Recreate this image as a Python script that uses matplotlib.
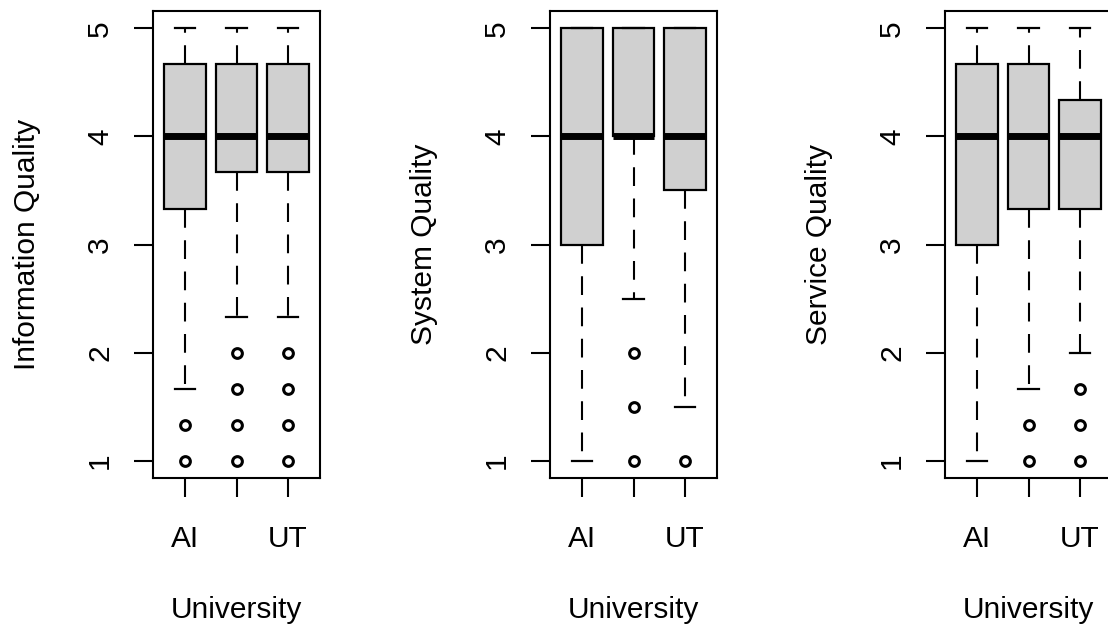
"""Three side-by-side boxplots of quality ratings by university (R-style)."""

import matplotlib

matplotlib.use("Agg")
import matplotlib.pyplot as plt

plt.rcParams["font.family"] = ["Liberation Sans", "DejaVu Sans"]

# ---- data ----
groups = ["AI", "", "UT"]  # middle label is dropped in the original (overlap)
panel_titles = ["Information Quality", "System Quality", "Service Quality"]
x_title = "University"

info_lo = [1.667, 2.333, 2.333]
info_q1 = [3.333, 3.667, 3.667]
info_med = [4.0, 4.0, 4.0]
info_q3 = [4.667, 4.667, 4.667]
info_hi = [5.0, 5.0, 5.0]
info_out = [[1.333, 1.0], [2.0, 1.667, 1.333, 1.0], [2.0, 1.667, 1.333, 1.0]]

sys_lo = [1.0, 2.5, 1.5]
sys_q1 = [3.0, 4.0, 3.5]
sys_med = [4.0, 4.0, 4.0]
sys_q3 = [5.0, 5.0, 5.0]
sys_hi = [5.0, 5.0, 5.0]
sys_out = [[], [2.0, 1.5, 1.0], [1.0]]

serv_lo = [1.0, 1.667, 2.0]
serv_q1 = [3.0, 3.333, 3.333]
serv_med = [4.0, 4.0, 4.0]
serv_q3 = [4.667, 4.667, 4.333]
serv_hi = [5.0, 5.0, 5.0]
serv_out = [[], [1.333, 1.0], [1.667, 1.333, 1.0]]

y_ticks = [1, 2, 3, 4, 5]

panels = [
    (info_lo, info_q1, info_med, info_q3, info_hi, info_out),
    (sys_lo, sys_q1, sys_med, sys_q3, sys_hi, sys_out),
    (serv_lo, serv_q1, serv_med, serv_q3, serv_hi, serv_out),
]

# ---- layout (pixels of the 1108x628 canvas) ----
W, H = 1108, 628
lefts_px = [153, 550, 945]
ax_w_px, top_px, bot_px = 167, 11, 478
FS = 21.5

fig = plt.figure(figsize=(W / 100, H / 100), dpi=100)

for i, (lo, q1, med, q3, hi, out) in enumerate(panels):
    ax = fig.add_axes(
        [lefts_px[i] / W, 1 - bot_px / H, ax_w_px / W, (bot_px - top_px) / H]
    )
    stats = [
        dict(whislo=lo[k], q1=q1[k], med=med[k], q3=q3[k], whishi=hi[k], fliers=out[k])
        for k in range(len(groups))
    ]
    ax.bxp(
        stats,
        positions=[1, 2, 3],
        widths=0.8,
        capwidths=0.4,
        patch_artist=True,
        showfliers=True,
        boxprops=dict(facecolor="#d0d0d0", edgecolor="black", linewidth=1.6),
        medianprops=dict(color="black", linewidth=5, solid_capstyle="butt"),
        whiskerprops=dict(color="black", linewidth=1.5, linestyle=(0, (9, 6))),
        capprops=dict(color="black", linewidth=1.6),
        flierprops=dict(
            marker="o", markersize=7, markerfacecolor="none",
            markeredgecolor="black", markeredgewidth=2.2, linestyle="none",
        ),
    )
    ax.set_xlim(0.38, 3.62)
    ax.set_ylim(0.84, 5.16)
    ax.set_xticks([1, 2, 3])
    ax.set_xticklabels(groups)
    ax.set_yticks(y_ticks)
    ax.set_yticklabels([str(t) for t in y_ticks], rotation=90, va="center")
    ax.tick_params(axis="both", length=14, width=1.5, labelsize=FS)
    ax.tick_params(axis="x", pad=20)
    ax.tick_params(axis="y", pad=14)
    for sp in ax.spines.values():
        sp.set_linewidth(1.5)

    ax.set_ylabel(panel_titles[i], fontsize=FS)
    # same offset from the frame in every panel
    ax.yaxis.set_label_coords((41 - 153) / ax_w_px, 0.5)
    ax.set_xlabel(x_title, fontsize=FS)
    ax.xaxis.set_label_coords(0.5, (478 - 596) / (bot_px - top_px))

fig.savefig("out.png", dpi=100)
plt.close(fig)
